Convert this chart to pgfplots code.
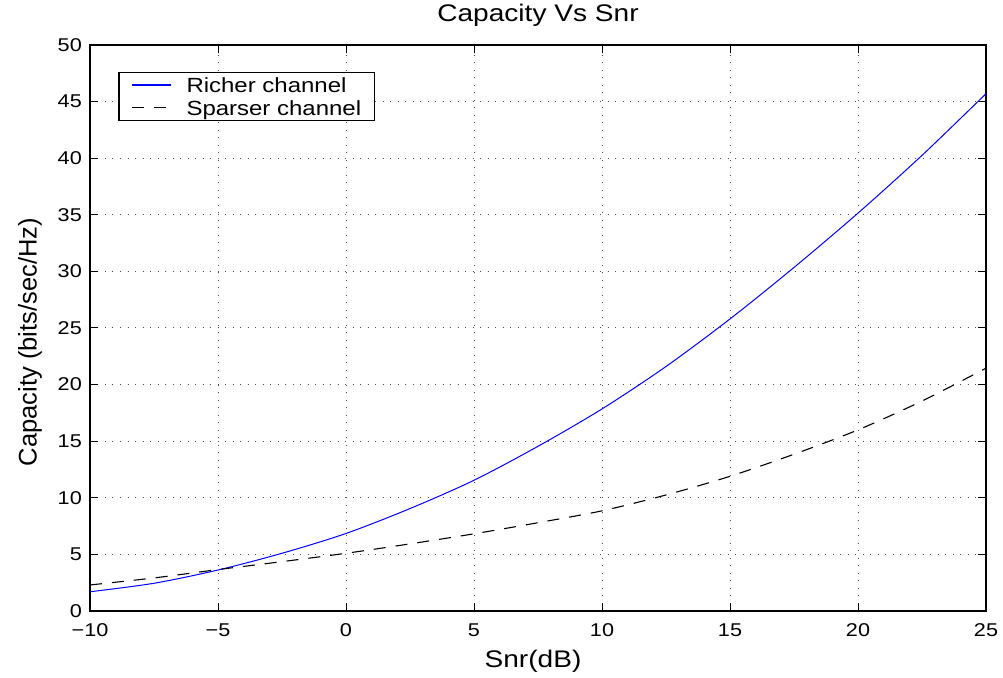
\documentclass[border=0pt]{standalone}
\usepackage{fontspec}
\setmainfont{Liberation Sans}[FakeStretch=1.17]
\newfontfamily\ylabfont{Liberation Sans}
\usepackage{pgfplots}
\pgfplotsset{compat=1.18}
\begin{document}
\begin{tikzpicture}
\useasboundingbox (-90pt,-66pt) rectangle (913pt,611pt);
\begin{axis}[
  at={(0pt,0pt)}, anchor=south west,
  scale only axis, width=896pt, height=566pt,
  xmin=-10, xmax=25, ymin=0, ymax=50,
  xtick={-10,-5,0,5,10,15,20,25},
  xticklabels={−10,−5,0,5,10,15,20,25},
  ytick={0,5,10,15,20,25,30,35,40,45,50},
  yticklabels={0,5,10,15,20,25,30,35,40,45,50},
  tick align=inside,
  major tick length=8pt,
  every tick/.style={black, line width=1pt},
  axis line style={line width=1.4pt},
  grid=major,
  major grid style={black!70, line width=1pt, dash pattern=on 1pt off 6.5pt},
  xticklabel style={font=\fontsize{18.5}{22}\selectfont, anchor=base, yshift=-25pt, inner sep=0pt},
  yticklabel style={font=\fontsize{18.5}{22}\selectfont, anchor=east, inner sep=0pt, xshift=-8pt},
  title={Capacity Vs Snr},
  title style={font=\fontsize{24}{28}\selectfont, at={(axis description cs:0.5,1)}, anchor=base, yshift=17pt, inner sep=0pt},
  xlabel={Snr(dB)},
  xlabel style={font=\fontsize{24}{28}\selectfont, at={(axis description cs:0.5,0)}, anchor=base, yshift=-56pt, xshift=-5pt, inner sep=0pt},
  ylabel={\ylabfont Capacity (bits/sec/Hz)},
  ylabel style={font=\fontsize{25.5}{28}\selectfont, at={(axis description cs:-0.0595,0.475)}, anchor=base, rotate=0, inner sep=0pt},
  legend style={
    at={(axis description cs:0.0316,0.9528)}, anchor=north west,
    font=\fontsize{20.5}{24}\selectfont,
    draw=black, line width=1.2pt,
    inner xsep=13pt, inner ysep=1.3pt,
    column sep=14.5pt, row sep=0pt,
    nodes={inner sep=0pt, text height=18.7pt, text depth=4pt},
  },
  legend cell align=left,
  legend image code/.code={\draw[#1, line width=1.1pt] (0pt,0pt) -- (39pt,0pt);},
]
\addplot[color={rgb,255:red,0;green,0;blue,255}, line width=1pt, smooth] coordinates {
(-10,1.70) (-7.5,2.45) (-5,3.62) (-2.5,5.10) (0,6.85) (2.5,9.05) (5,11.55) (7.5,14.55)
(10,17.85) (12.5,21.6) (15,25.8) (17.5,30.35) (20,35.15) (22.5,40.25) (25,45.7)
};
\addlegendentry{Richer channel}
\addplot[color=black, line width=1.1pt, smooth, dash pattern=on 12pt off 10pt] coordinates {
(-10,2.30) (-7.5,2.92) (-5,3.66) (-2.5,4.36) (0,5.10) (2.5,5.93) (5,6.82) (7.5,7.80)
(10,8.85) (12.5,10.25) (15,11.9) (17.5,13.85) (20,16.0) (22.5,18.55) (25,21.45)
};
\addlegendentry{Sparser channel}
\end{axis}
\end{tikzpicture}
\end{document}
